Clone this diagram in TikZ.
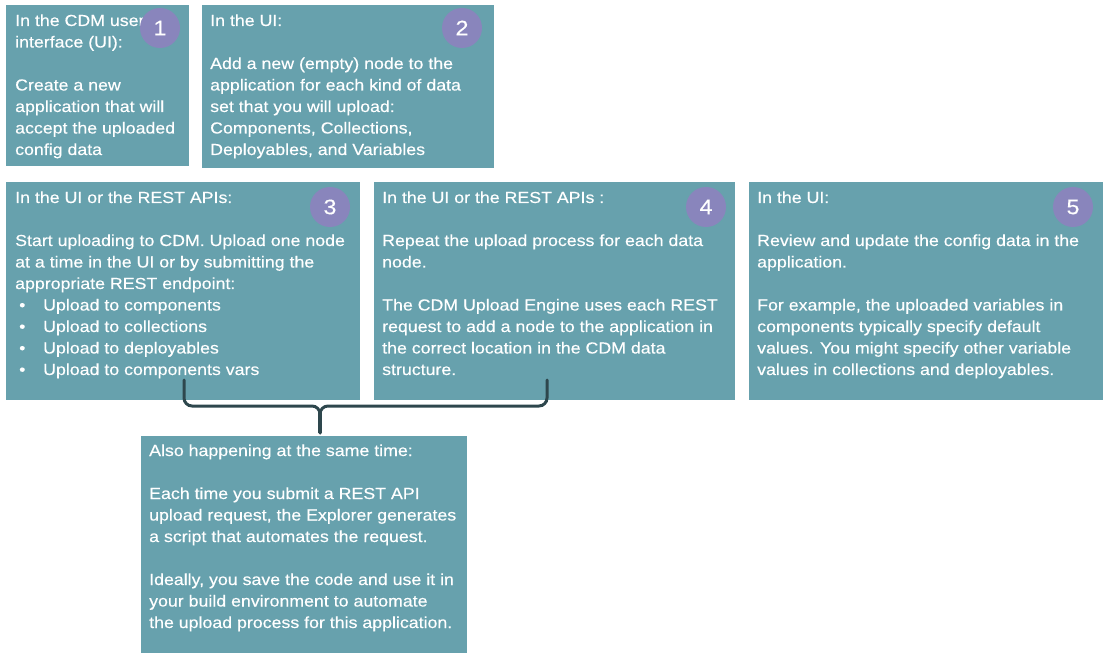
\documentclass[tikz,border=0pt]{standalone}
\usepackage{fontspec}
\setmainfont{Liberation Sans}[FakeStretch=1.11,FakeBold=0.3]
\definecolor{boxfill}{HTML}{67A1AD}
\definecolor{circfill}{HTML}{8985BC}
\definecolor{bracecol}{HTML}{2E474D}
\tikzset{
 stepbox/.style={fill=boxfill, draw=none, inner sep=0pt, anchor=north west},
 txt/.style={text=white, inner sep=0pt, anchor=base west, font=\fontsize{16}{21.5}\selectfont},
 numcirc/.style={circle, fill=circfill, minimum size=40pt, inner sep=0pt, text=white, font=\fontsize{21}{21}\selectfont},
 bracestyle/.style={draw=bracecol, line width=3pt, rounded corners=8pt, line cap=round}
}
\newcommand{\bul}{\makebox[28pt][l]{\hspace{4pt}\textbullet}}
\begin{document}
\begin{tikzpicture}[x=1pt,y=-1pt]
\useasboundingbox (0,0) rectangle (1111,660);
% boxes
\node[stepbox, minimum width=183pt, minimum height=161pt] (b1) at (6,5) {};
\node[stepbox, minimum width=292pt, minimum height=163pt] (b2) at (202,5) {};
\node[stepbox, minimum width=354pt, minimum height=218pt] (b3) at (6,182) {};
\node[stepbox, minimum width=361pt, minimum height=218pt] (b4) at (374,182) {};
\node[stepbox, minimum width=354pt, minimum height=218pt] (b5) at (749,182) {};
\node[stepbox, minimum width=326pt, minimum height=217pt] (b6) at (141,436) {};
% texts
\node[txt] (t1) at ([shift={(9,21)}]b1.north west) {\parbox[t]{400pt}{\raggedright
In the CDM user\\
interface (UI):\\[21.5pt]
Create a new\\
application that will\\
accept the uploaded\\
config data}};
\node[txt] (t2) at ([shift={(8,21)}]b2.north west) {\parbox[t]{400pt}{\raggedright
In the UI:\\[21.5pt]
Add a new (empty) node to the\\
application for each kind of data\\
set that you will upload:\\
Components, Collections,\\
Deployables, and Variables}};
\node[txt] (t3) at ([shift={(9,21)}]b3.north west) {\parbox[t]{400pt}{\raggedright
In the UI or the REST APIs:\\[21.5pt]
Start uploading to CDM. Upload one node\\
at a time in the UI or by submitting the\\
appropriate REST endpoint:\\
\bul Upload to components\\
\bul Upload to collections\\
\bul Upload to deployables\\
\bul Upload to components vars}};
\node[txt] (t4) at ([shift={(8,21)}]b4.north west) {\parbox[t]{400pt}{\raggedright
In the UI or the REST APIs :\\[21.5pt]
Repeat the upload process for each data\\
node.\\[21.5pt]
The CDM Upload Engine uses each REST\\
request to add a node to the application in\\
the correct location in the CDM data\\
structure.}};
\node[txt] (t5) at ([shift={(8,21)}]b5.north west) {\parbox[t]{400pt}{\raggedright
In the UI:\\[21.5pt]
Review and update the config data in the\\
application.\\[21.5pt]
For example, the uploaded variables in\\
components typically specify default\\
values. You might specify other variable\\
values in collections and deployables.}};
\node[txt] (t6) at ([shift={(8,20)}]b6.north west) {\parbox[t]{400pt}{\raggedright
Also happening at the same time:\\[21.5pt]
Each time you submit a REST API\\
upload request, the Explorer generates\\
a script that automates the request.\\[21.5pt]
Ideally, you save the code and use it in\\
your build environment to automate\\
the upload process for this application.}};
% number circles
\node[numcirc] (c1) at (160,28) {1};
\node[numcirc] (c2) at (462,28) {2};
\node[numcirc] (c3) at (330,207) {3};
\node[numcirc] (c4) at (706,207) {4};
\node[numcirc] (c5) at (1073,207) {5};
% brace
\coordinate (bL) at (184,380);
\coordinate (bR) at (547,380);
\coordinate (bT) at (320,433);
\draw[bracestyle] (bL) -- (184,406) -- (320,406) -- (bT);
\draw[bracestyle] (bR) -- (547,406) -- (320,406) -- (bT);
\draw[draw=bracecol, line width=4.5pt] (320,410) -- (bT);
\end{tikzpicture}
\end{document}
